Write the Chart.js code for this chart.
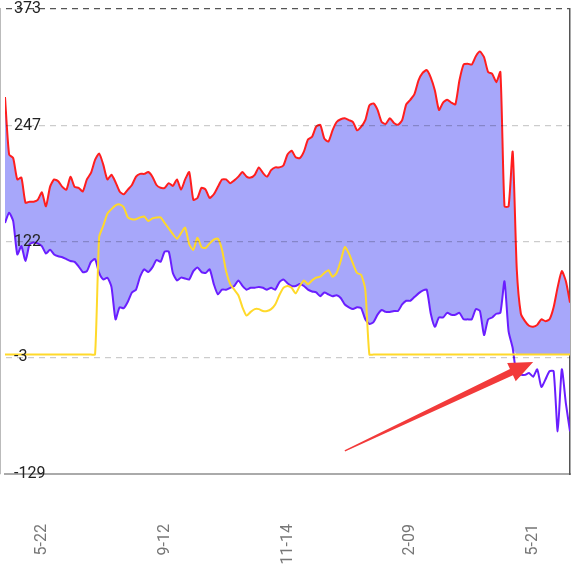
<!DOCTYPE html>
<html>
<head>
<meta charset="utf-8">
<script src="https://cdn.jsdelivr.net/npm/chart.js@4.4.1/dist/chart.umd.min.js"></script>
<style>
  html, body { margin: 0; padding: 0; background: #fff; }
  #wrap { width: 585px; height: 575px; }
</style>
</head>
<body>
<div id="wrap"><canvas id="chart" width="585" height="575"></canvas></div>
<script>
// Tick labels
const xTickIndex = [9, 39, 69, 99, 129];
const xTickLabels = ['5-22', '9-12', '11-14', '2-09', '5-21'];
const yTicks = [373, 247, 122, -3, -129];
const yMin = -129;
const yMax = 373;

// Series values (one point per sample)
const redLine = [
  278, 216, 212, 189, 191, 164, 165, 165, 167, 175,
  160, 181, 189, 187, 181, 178, 192, 181, 180, 176,
  189, 196, 210, 217, 205, 189, 194, 186, 176, 173,
  178, 183, 192, 195, 195, 197, 192, 183, 180, 180,
  185, 182, 189, 178, 189, 197, 167, 169, 180, 178,
  169, 173, 181, 189, 189, 185, 188, 192, 197, 192,
  191, 194, 202, 196, 192, 199, 202, 202, 204, 216,
  220, 213, 212, 219, 232, 235, 246, 248, 233, 230,
  242, 251, 254, 255, 253, 251, 242, 246, 253, 269,
  271, 264, 251, 249, 255, 250, 248, 253, 270, 275,
  281, 296, 304, 307, 299, 285, 264, 272, 275, 272,
  270, 296, 313, 314, 313, 322, 327, 321, 305, 303,
  294, 305, 160, 160, 219, 92, 44, 36, 31, 30,
  32, 38, 36, 38, 51, 73, 90, 79, 56
];

const purpleLine = [
  142, 153, 144, 108, 117, 101, 119, 121, 120, 117,
  109, 113, 108, 106, 105, 103, 101, 100, 95, 89,
  90, 100, 103, 88, 81, 83, 73, 38, 51, 50,
  57, 67, 70, 84, 92, 89, 94, 102, 100, 111,
  111, 88, 80, 83, 82, 81, 90, 94, 89, 88,
  92, 76, 65, 70, 70, 72, 74, 80, 74, 70,
  72, 72, 73, 72, 70, 72, 70, 78, 81, 77,
  74, 74, 76, 74, 70, 68, 67, 63, 67, 65,
  63, 64, 61, 54, 51, 49, 51, 50, 38, 33,
  35, 43, 48, 46, 46, 47, 47, 54, 58, 58,
  62, 66, 69, 70, 44, 30, 40, 40, 45, 43,
  43, 45, 38, 38, 38, 49, 47, 21, 38, 40,
  44, 45, 79, 25, 7, -23, -22, -22, -20, -24,
  -16, -35, -27, -18, -18, -83, -16, -53, -83
];

const yellowLine = [
  0, 0, 0, 0, 0, 0, 0, 0, 0, 0,
  0, 0, 0, 0, 0, 0, 0, 0, 0, 0,
  0, 0, 0, 127, 139, 152, 157, 161, 162, 159,
  148, 146, 146, 148, 149, 144, 147, 148, 148, 142,
  136, 130, 125, 131, 137, 119, 113, 126, 116, 115,
  120, 124, 125, 113, 90, 76, 70, 64, 51, 42,
  46, 49, 49, 47, 47, 49, 54, 64, 72, 74,
  72, 66, 74, 80, 76, 80, 83, 84, 88, 91,
  84, 88, 101, 116, 109, 98, 88, 86, 70, 0,
  0, 0, 0, 0, 0, 0, 0, 0, 0, 0,
  0, 0, 0, 0, 0, 0, 0, 0, 0, 0,
  0, 0, 0, 0, 0, 0, 0, 0, 0, 0,
  0, 0, 0, 0, 0, 0, 0, 0, 0, 0,
  0, 0, 0, 0, 0, 0, 0, 0, 0
];

// Arrow annotation: [index, value] of tail and tip
const arrowFrom = [83, -104];
const arrowTo = [129, -8];

// the shaded band stops at the zero line where purple drops below it
const fillBase = purpleLine.map(v => Math.max(v, 0));

function toPoints(values) {
  return values.map((v, i) => ({ x: i, y: v }));
}

// keep the plot area where the reference has it
function fixSize(w, h) {
  return scale => {
    if (w !== null) scale.width = w;
    if (h !== null) scale.height = h;
    scale.paddingTop = 0;
    scale.paddingBottom = 0;
    scale.paddingLeft = 0;
    scale.paddingRight = 0;
  };
}

// grid colour per y tick: dark dashed top, none at the bottom border
function gridColor(c) {
  if (!c.tick) return 'rgba(0,0,0,0.2)';
  if (c.tick.value === yMax) return '#555';
  if (c.tick.value === yMin) return 'transparent';
  return 'rgba(0,0,0,0.2)';
}

// Red arrow drawn over the lines, placed through the scales
const arrowPlugin = {
  id: 'arrow',
  afterDatasetsDraw(chart) {
    const { ctx, scales: { x, y } } = chart;
    const x0 = x.getPixelForValue(arrowFrom[0]);
    const y0 = y.getPixelForValue(arrowFrom[1]);
    const x1 = x.getPixelForValue(arrowTo[0]);
    const y1 = y.getPixelForValue(arrowTo[1]);
    const len = Math.hypot(x1 - x0, y1 - y0);
    const ux = (x1 - x0) / len, uy = (y1 - y0) / len;
    const nx = -uy, ny = ux;
    const head = 24, headW = 10, shaftW = 3.5;
    const bx = x1 - ux * head, by = y1 - uy * head;
    ctx.save();
    ctx.fillStyle = '#f23a3a';
    ctx.beginPath();
    ctx.moveTo(x0 + nx * 0.6, y0 + ny * 0.6);
    ctx.lineTo(bx + nx * shaftW, by + ny * shaftW);
    ctx.lineTo(bx + nx * headW, by + ny * headW);
    ctx.lineTo(x1, y1);
    ctx.lineTo(bx - nx * headW, by - ny * headW);
    ctx.lineTo(bx - nx * shaftW, by - ny * shaftW);
    ctx.lineTo(x0 - nx * 0.6, y0 - ny * 0.6);
    ctx.closePath();
    ctx.fill();
    ctx.restore();
  }
};

const lineDefaults = {
  pointRadius: 0,
  pointHoverRadius: 0,
  borderWidth: 2,
  tension: 0.2
};

new Chart(document.getElementById('chart'), {
  type: 'line',
  data: {
    datasets: [
      {
        ...lineDefaults,
        label: 'red',
        data: toPoints(redLine),
        borderColor: '#ff1e1e',
        backgroundColor: '#a7a7fa',
        fill: 3
      },
      {
        ...lineDefaults,
        label: 'yellow',
        data: toPoints(yellowLine),
        borderColor: '#ffd92a',
        fill: false
      },
      {
        ...lineDefaults,
        label: 'purple',
        data: toPoints(purpleLine),
        borderColor: '#6a1eff',
        fill: false
      },
      {
        ...lineDefaults,
        label: 'base',
        data: toPoints(fillBase),
        borderWidth: 0,
        borderColor: 'transparent',
        fill: false
      }
    ]
  },
  options: {
    responsive: false,
    animation: false,
    events: [],
    layout: {
      padding: { left: 5, right: 15, top: 9, bottom: 10 }
    },
    plugins: {
      legend: { display: false },
      tooltip: { enabled: false },
      filler: { drawTime: 'beforeDatasetsDraw' }
    },
    scales: {
      x: {
        type: 'linear',
        min: 0,
        max: redLine.length - 1,
        afterBuildTicks: scale => {
          scale.ticks = xTickIndex.map(v => ({ value: v }));
        },
        afterFit: fixSize(null, 91),
        ticks: {
          autoSkip: false,
          minRotation: 90,
          maxRotation: 90,
          padding: 50,
          color: '#777',
          font: { family: 'Roboto', size: 16 },
          callback: v => xTickLabels[xTickIndex.indexOf(v)]
        },
        grid: { display: false, drawTicks: false },
        border: { display: true, color: '#aaa', width: 2 }
      },
      y: {
        min: yMin,
        max: yMax,
        afterBuildTicks: scale => {
          scale.ticks = yTicks.map(v => ({ value: v }));
        },
        afterFit: fixSize(0, null),
        ticks: {
          z: 1,
          mirror: true,
          padding: 9,
          color: '#222',
          font: { family: 'Roboto', size: 16 },
          callback: v => String(v)
        },
        grid: {
          z: 1,
          drawTicks: false,
          lineWidth: 1.2,
          color: gridColor
        },
        border: { display: true, color: '#bbb', width: 2, dash: [6, 5] }
      },
      y2: {
        position: 'right',
        min: yMin,
        max: yMax,
        afterFit: fixSize(0, null),
        ticks: { display: false },
        grid: { display: false, drawTicks: false },
        border: { display: true, color: '#555', width: 1.5 }
      }
    }
  },
  plugins: [arrowPlugin]
});
</script>
</body>
</html>
